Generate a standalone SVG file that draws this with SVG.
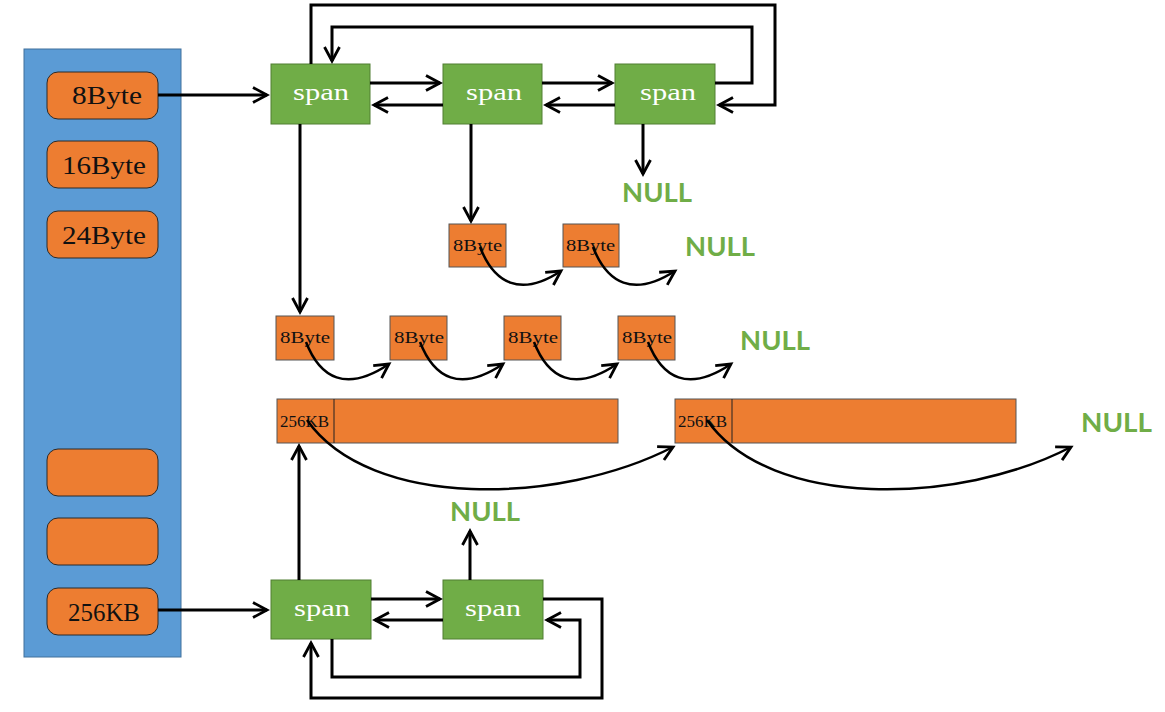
<svg xmlns="http://www.w3.org/2000/svg" width="1165" height="712" viewBox="0 0 1165 712">
<defs>
<marker id="ah" markerUnits="userSpaceOnUse" markerWidth="30" markerHeight="30" viewBox="-20 -15 30 30" refX="0" refY="0" orient="auto">
<path d="M-14,-7.5 L0,0 L-14,7.5" fill="none" stroke="#000" stroke-width="2.8" stroke-linejoin="miter"/>
</marker>
<style>
.panel{fill:#5B9BD5;stroke:#41719C;stroke-width:1}
.pill{fill:#ED7D31;stroke:#2a2a2a;stroke-width:1}
.box{fill:#ED7D31;stroke:#555;stroke-width:1}
.span{fill:#70AD47;stroke:#507E32;stroke-width:1}
.pt{font-family:"Liberation Serif",serif;font-size:26px;fill:#111}
.st{font-family:"Liberation Serif",serif;font-size:24px;fill:#fff}
.bt{font-family:"Liberation Serif",serif;font-size:16px;fill:#111}
.null{font-family:Lato,"Open Sans",sans-serif;font-weight:bold;font-size:27px;fill:#70AD47}
.ln{fill:none;stroke:#000;stroke-width:3}
.cv{fill:none;stroke:#000;stroke-width:2.5}
</style>
</defs>
<g id="panel">
<rect class="panel" x="24" y="49" width="157" height="608"/>
</g>
<g id="pill-8byte"><rect class="pill" x="47" y="72" width="111" height="47" rx="11"/><text class="pt" x="72" y="104" textLength="70" lengthAdjust="spacingAndGlyphs">8Byte</text></g>
<g id="pill-16byte"><rect class="pill" x="47" y="141" width="111" height="47" rx="11"/><text class="pt" x="62" y="174" textLength="84" lengthAdjust="spacingAndGlyphs">16Byte</text></g>
<g id="pill-24byte"><rect class="pill" x="47" y="211" width="111" height="47" rx="11"/><text class="pt" x="62" y="244" textLength="84" lengthAdjust="spacingAndGlyphs">24Byte</text></g>
<g id="pill-a"><rect class="pill" x="47" y="449" width="111" height="47" rx="11"/></g>
<g id="pill-b"><rect class="pill" x="47" y="518" width="111" height="47" rx="11"/></g>
<g id="pill-256kb"><rect class="pill" x="47" y="588" width="111" height="47" rx="11"/><text class="pt" x="68" y="621" textLength="72" lengthAdjust="spacingAndGlyphs">256KB</text></g>

<g id="span1"><rect class="span" x="271" y="64" width="99" height="60"/><text class="st" x="293" y="100" textLength="56" lengthAdjust="spacingAndGlyphs">span</text></g>
<g id="span2"><rect class="span" x="443" y="64" width="99" height="60"/><text class="st" x="466" y="100" textLength="56" lengthAdjust="spacingAndGlyphs">span</text></g>
<g id="span3"><rect class="span" x="615" y="64" width="100" height="60"/><text class="st" x="640" y="100" textLength="56" lengthAdjust="spacingAndGlyphs">span</text></g>
<g id="span4"><rect class="span" x="271" y="580" width="100" height="59"/><text class="st" x="294" y="616" textLength="56" lengthAdjust="spacingAndGlyphs">span</text></g>
<g id="span5"><rect class="span" x="443" y="580" width="100" height="59"/><text class="st" x="465" y="616" textLength="56" lengthAdjust="spacingAndGlyphs">span</text></g>

<g id="obj-r2-1"><rect class="box" x="449" y="224" width="57" height="43"/><text class="bt" x="453" y="251" textLength="49" lengthAdjust="spacingAndGlyphs">8Byte</text></g>
<g id="obj-r2-2"><rect class="box" x="563" y="224" width="56" height="43"/><text class="bt" x="566" y="251" textLength="49" lengthAdjust="spacingAndGlyphs">8Byte</text></g>
<g id="obj-r3-1"><rect class="box" x="276" y="316" width="58" height="44"/><text class="bt" x="280" y="343" textLength="50" lengthAdjust="spacingAndGlyphs">8Byte</text></g>
<g id="obj-r3-2"><rect class="box" x="390" y="316" width="57" height="44"/><text class="bt" x="394" y="343" textLength="50" lengthAdjust="spacingAndGlyphs">8Byte</text></g>
<g id="obj-r3-3"><rect class="box" x="504" y="316" width="57" height="44"/><text class="bt" x="508" y="343" textLength="50" lengthAdjust="spacingAndGlyphs">8Byte</text></g>
<g id="obj-r3-4"><rect class="box" x="618" y="316" width="57" height="44"/><text class="bt" x="622" y="343" textLength="50" lengthAdjust="spacingAndGlyphs">8Byte</text></g>
<g id="obj-256-1"><rect class="box" x="277" y="399" width="341" height="44"/><line x1="334" y1="399" x2="334" y2="443" stroke="#222" stroke-width="1"/><text class="bt" x="280" y="427" textLength="49" lengthAdjust="spacingAndGlyphs">256KB</text></g>
<g id="obj-256-2"><rect class="box" x="675" y="399" width="341" height="44"/><line x1="732" y1="399" x2="732" y2="443" stroke="#222" stroke-width="1"/><text class="bt" x="678" y="427" textLength="49" lengthAdjust="spacingAndGlyphs">256KB</text></g>

<g id="null-1"><text class="null" x="622" y="202" textLength="70" lengthAdjust="spacingAndGlyphs">NULL</text></g>
<g id="null-2"><text class="null" x="685" y="256" textLength="70" lengthAdjust="spacingAndGlyphs">NULL</text></g>
<g id="null-3"><text class="null" x="740" y="350" textLength="70" lengthAdjust="spacingAndGlyphs">NULL</text></g>
<g id="null-4"><text class="null" x="1081" y="432" textLength="71" lengthAdjust="spacingAndGlyphs">NULL</text></g>
<g id="null-5"><text class="null" x="450" y="521" textLength="70" lengthAdjust="spacingAndGlyphs">NULL</text></g>

<g id="connectors">
<path class="ln" d="M158,95 H267" marker-end="url(#ah)"/>
<path class="ln" d="M158,610 H267" marker-end="url(#ah)"/>
<path class="ln" d="M370,83 H440" marker-end="url(#ah)"/>
<path class="ln" d="M542,83 H612" marker-end="url(#ah)"/>
<path class="ln" d="M443,105 H374" marker-end="url(#ah)"/>
<path class="ln" d="M615,105 H546" marker-end="url(#ah)"/>
<path class="ln" d="M311,64 V5 H775 V105 H719" marker-end="url(#ah)"/>
<path class="ln" d="M715,83 H752 V27 H332 V61" marker-end="url(#ah)"/>
<path class="ln" d="M300,124 V312" marker-end="url(#ah)"/>
<path class="ln" d="M471,124 V221" marker-end="url(#ah)"/>
<path class="ln" d="M643,124 V174" marker-end="url(#ah)"/>
<path class="ln" d="M371,599 H440" marker-end="url(#ah)"/>
<path class="ln" d="M443,620 H375" marker-end="url(#ah)"/>
<path class="ln" d="M543,599 H602 V698 H311 V643" marker-end="url(#ah)"/>
<path class="ln" d="M332,639 V677 H580 V620 H547" marker-end="url(#ah)"/>
<path class="ln" d="M299,580 V446" marker-end="url(#ah)"/>
<path class="ln" d="M470,580 V531" marker-end="url(#ah)"/>
<path class="cv" d="M480,247 C494,283 520,298 561,271" marker-end="url(#ah)"/>
<path class="cv" d="M593,247 C607,283 633,298 675,271" marker-end="url(#ah)"/>
<path class="cv" d="M306,342 C320,378 346,393 389,364" marker-end="url(#ah)"/>
<path class="cv" d="M420,342 C434,378 460,393 503,364" marker-end="url(#ah)"/>
<path class="cv" d="M534,342 C548,378 574,393 617,364" marker-end="url(#ah)"/>
<path class="cv" d="M648,342 C662,378 688,393 731,364" marker-end="url(#ah)"/>
<path class="cv" d="M307,420 C370,510 560,505 673,447" marker-end="url(#ah)"/>
<path class="cv" d="M707,420 C770,510 960,505 1071,447" marker-end="url(#ah)"/>
</g>
</svg>
